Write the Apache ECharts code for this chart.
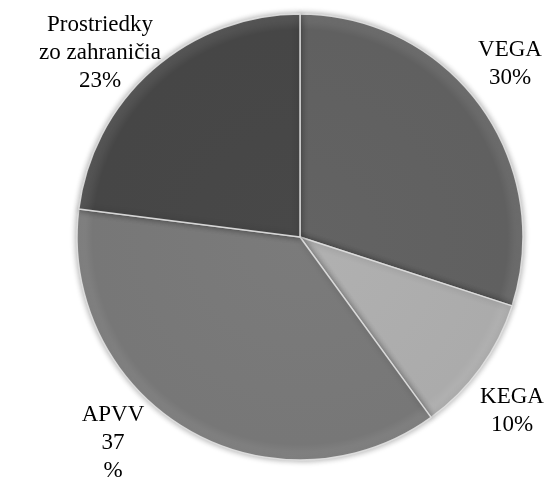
<!DOCTYPE html>
<html>
<head>
<meta charset="utf-8">
<script src="https://cdn.jsdelivr.net/npm/echarts@6/dist/echarts.min.js"></script>
<style>
  html, body { margin: 0; padding: 0; background: #fff; }
  #chart { width: 554px; height: 480px; }
</style>
</head>
<body>
<div id="chart"></div>
<script>
// categories and shares (%)
var categories = ['VEGA', 'KEGA', 'APVV', 'Prostriedky\nzo zahraničia'];
var shares = [30, 10, 37, 23];
// slice greys, same order as categories
var sliceColors = ['#606060', '#ababab', '#777777', '#464646'];

// label anchor points (centre of text block), per category
var labelAnchors = [[510, 64], [512, 411], [113, 443], [100, 53]];

var chart = echarts.init(document.getElementById('chart'));

function shade(c) {
    // soft rim shading to mimic the bevel look
    return {
        type: 'radial', x: 300, y: 237, r: 223, global: true,
        colorStops: [
            { offset: 0, color: echarts.color.lift(c, -0.04) },
            { offset: 0.93, color: c },
            { offset: 1, color: echarts.color.lift(c, 0.12) }
        ]
    };
}

var option = {
    animation: false,
    series: [{
        type: 'pie',
        center: [300, 237],
        radius: 223,
        startAngle: 90,
        clockwise: true,
        data: categories.map(function (name, i) {
            return {
                name: name,
                value: shares[i],
                itemStyle: { color: shade(sliceColors[i]) }
            };
        }),
        itemStyle: {
            borderColor: 'rgba(225,225,225,0.9)',
            borderWidth: 1.5,
            shadowBlur: 6,
            shadowColor: 'rgba(0,0,0,0.35)'
        },
        label: {
            show: true,
            position: 'outside',
            fontFamily: '"Liberation Serif", "Times New Roman", serif',
            fontSize: 23,
            lineHeight: 28,
            color: '#000',
            align: 'center',
            overflow: 'none',
            width: 200,
            formatter: function (p) {
                // APVV label wraps its percent onto a third line in the original
                var pct = p.name === 'APVV' ? p.value + '\n%' : p.value + '%';
                return p.name + '\n' + pct;
            }
        },
        labelLine: { show: false },
        labelLayout: function (params) {
            var a = labelAnchors[params.dataIndex];
            return { x: a[0], y: a[1], align: 'center', verticalAlign: 'middle' };
        },
        emphasis: { disabled: true }
    }]
};

chart.setOption(option);
</script>
</body>
</html>
